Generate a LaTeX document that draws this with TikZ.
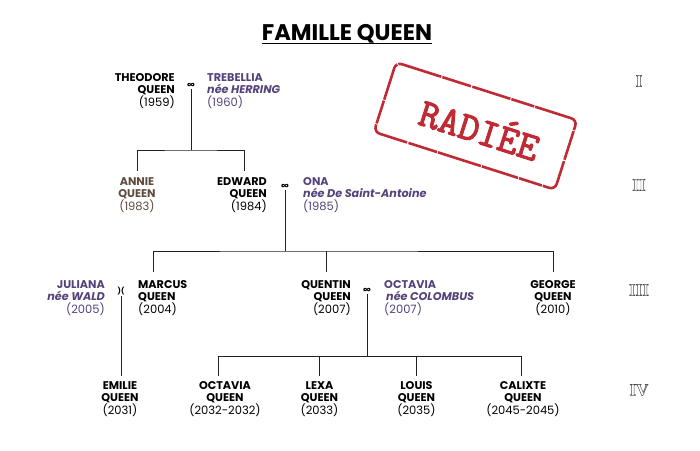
\documentclass[tikz,border=0pt]{standalone}
\usepackage{fontspec}
\setmainfont{Poppins}
\newfontfamily\genfont{Liberation Serif}
\definecolor{conjoint}{HTML}{54427A}
\definecolor{radiee}{HTML}{5F4A3E}
\definecolor{tampon}{HTML}{C02A35}
\definecolor{trait}{HTML}{222222}
\newcommand{\annee}[1]{\textnormal{\fontsize{11.5}{12.5}\selectfont #1}}
\newcommand{\creux}[1]{\special{pdf:code 1 Tr 0.45 w}#1\special{pdf:code 0 Tr}}
\newcommand{\gras}[1]{\special{pdf:code 2 Tr 1 w}#1\special{pdf:code 0 Tr}}
\tikzset{
  personne/.style={font=\fontsize{11.2}{12.5}\selectfont\bfseries, inner xsep=0pt, inner ysep=6.5pt},
  epoux/.style={personne, text=black},
  conj/.style={personne, text=conjoint},
  rangIII/.style={inner ysep=8.5pt},
  rangIV/.style={inner ysep=5pt},
  union/.style={font=\fontsize{10}{10}\selectfont\bfseries, inner sep=0.5pt},
  lien/.style={trait, line width=0.9pt},
  gen/.style={font=\genfont\bfseries\fontsize{17}{17}\selectfont, text=black!70, inner sep=0pt},
}
\begin{document}
\begin{tikzpicture}[x=1pt, y=-1pt]
\useasboundingbox (0,0) rectangle (700,450);
\node[font=\fontsize{22.6}{24}\selectfont\bfseries, inner sep=0pt] (titre) at (347,33.5) {FAMILLE QUEEN};
\draw[line width=1.8pt] (titre.south west |- 0,43.5) -- (titre.south east |- 0,43.5);
% generation I
\node[epoux, anchor=east, align=right] (theodore) at (175,91) {THEODORE\hspace{2pt}\\QUEEN\hspace{2pt}\\\annee{(1959)}};
\node[conj, anchor=west, align=left] (trebellia) at (207,91) {TREBELLIA\\\textit{née HERRING}\\\annee{(1960)}};
\node[union] (u1) at (191,86) {∞};
% generation II
\node[personne, text=radiee, align=center] (annie) at (137,195) {ANNIE\\QUEEN\\\annee{(1983)}};
\node[epoux, anchor=east, align=right] (edward) at (267,195) {EDWARD\hspace{2pt}\\QUEEN\hspace{2pt}\\\annee{(1984)}};
\node[conj, anchor=west, align=left] (ona) at (303,195) {ONA\\\textit{née De Saint-Antoine}\\\annee{(1985)}};
\node[union] (u2) at (285,187) {∞};
% generation III
\node[conj, anchor=east, align=right] (juliana) at (105,298) {JULIANA\\\textit{née WALD}\\\annee{(2005)}};
\node[epoux, rangIII, anchor=west, align=left] (marcus) at (138,298) {MARCUS\\QUEEN\\\annee{(2004)}};
\node[union, font=\fontsize{7}{7}\selectfont\bfseries] (u3) at (121,291) {)(};
\node[epoux, rangIII, anchor=east, align=right] (quentin) at (351,298) {QUENTIN\\QUEEN\hspace{2pt}\\\annee{(2007)}};
\node[conj, anchor=west, align=left] (octavia) at (384,298) {OCTAVIA\\\hspace{2pt}\textit{née COLOMBUS}\\\annee{(2007)}};
\node[union] (u4) at (367,291) {∞};
\node[epoux, rangIII, align=center] (george) at (553,298) {GEORGE\\QUEEN\\\annee{(2010)}};
% generation IV
\node[epoux, rangIV, align=center] (emilie) at (120,399) {EMILIE\\QUEEN\\\annee{(2031)}};
\node[epoux, rangIV, align=center] (octaviab) at (225,399) {OCTAVIA\\QUEEN\\\annee{(2032-2032)}};
\node[epoux, rangIV, align=center] (lexa) at (319.5,399) {LEXA\\QUEEN\\\annee{(2033)}};
\node[epoux, rangIV, align=center] (louis) at (416.5,399) {LOUIS\\QUEEN\\\annee{(2035)}};
\node[epoux, rangIV, align=center] (calixte) at (523,399) {CALIXTE\\QUEEN\\\annee{(2045-2045)}};
% liens
\coordinate (bus1) at (191,150);
\coordinate (bus2) at (285,251);
\coordinate (bus4) at (367,356.5);
\draw[lien] (u1) -- (bus1);
\draw[lien] (annie.88) |- (bus1) -| (edward.83);
\draw[lien] (u2) -- (bus2);
\draw[lien] (marcus.110) |- (bus2) -| (george.north);
\draw[lien] (bus2 -| quentin.88) -- (quentin.88);
\draw[lien] (u3) -- (u3 |- emilie.north);
\draw[lien] (u4) -- (bus4);
\draw[lien] (octaviab.105) |- (bus4) -| (calixte.94);
\draw[lien] (bus4 -| lexa.north) -- (lexa.north);
\draw[lien] (bus4 -| louis.north) -- (louis.north);
% numeros
\node[gen] (g1) at (639,81) {\creux{I}};
\node[gen] (g2) at (639,185) {\creux{II}};
\node[gen] (g3) at (639,290) {\creux{III}};
\node[gen] (g4) at (639,390) {\creux{IV}};
% tampon
\node[rotate=-17.7, draw=tampon, text=tampon, line width=2.6pt, rounded corners=6pt, minimum width=190pt, minimum height=73pt, font=\ttfamily\fontsize{40}{40}\selectfont, inner sep=0pt, dash pattern=on 38pt off 1pt on 24pt off 1pt on 40pt off 1.5pt on 30pt off 1pt on 45pt off 1pt] (tampon) at (475.5,126) {\hspace*{10pt}\gras{RADIÉE}};
\end{tikzpicture}
\end{document}
